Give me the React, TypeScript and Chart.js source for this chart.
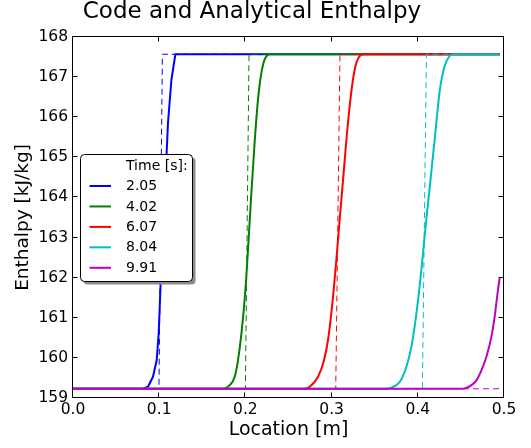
import React, { useEffect, useRef } from 'react';
import { Chart, registerables } from 'chart.js';

Chart.register(...registerables);

const TITLE = 'Code and Analytical Enthalpy';
const X_LABEL = 'Location [m]';
const Y_LABEL = 'Enthalpy [kJ/kg]';
const LEGEND_TITLE = 'Time [s]:';
const TIMES = ['2.05', '4.02', '6.07', '8.04', '9.91'];
const COLORS = ['#0000ff', '#008000', '#ff0000', '#00bfbf', '#bf00bf'];

const X_TICKS = [0, 0.1, 0.2, 0.3, 0.4, 0.5];
const Y_TICKS = [159, 160, 161, 162, 163, 164, 165, 166, 167, 168];

// Code results (solid)
const code205X = [0, 0.081, 0.087, 0.0928, 0.0971, 0.0994, 0.1006, 0.1017, 0.1102, 0.1142, 0.1188, 0.495];
const code205Y = [159.23, 159.23, 159.28, 159.53, 159.94, 160.62, 161.27, 161.89, 165.86, 166.94, 167.57, 167.57];

const code402X = [0, 0.1721, 0.1818, 0.1876, 0.1914, 0.1954, 0.2, 0.203, 0.2069, 0.2108, 0.2146, 0.2186, 0.2224, 0.2282, 0.495];
const code402Y = [159.23, 159.23, 159.32, 159.53, 159.94, 160.61, 161.69, 162.7, 164.1, 165.4, 166.44, 167.11, 167.44, 167.57, 167.57];

const code607X = [0, 0.268, 0.2746, 0.2843, 0.2912, 0.2958, 0.3005, 0.3055, 0.3086, 0.3133, 0.3172, 0.321, 0.3248, 0.3288, 0.3364, 0.495];
const code607Y = [159.23, 159.23, 159.28, 159.53, 159.94, 160.44, 161.28, 162.44, 163.25, 164.44, 165.44, 166.28, 166.94, 167.36, 167.57, 167.57];

const code804X = [0, 0.362, 0.3694, 0.379, 0.3868, 0.3926, 0.3984, 0.4042, 0.408, 0.4138, 0.4196, 0.4254, 0.4312, 0.437, 0.441, 0.495];
const code804Y = [159.23, 159.23, 159.26, 159.4, 159.78, 160.28, 161.11, 162.2, 163.05, 164.25, 165.45, 166.65, 167.28, 167.53, 167.57, 167.57];

const code991X = [0, 0.452, 0.4622, 0.468, 0.4738, 0.4796, 0.4854, 0.4892, 0.493, 0.495];
const code991Y = [159.23, 159.23, 159.32, 159.44, 159.69, 160.03, 160.53, 161.03, 161.69, 161.99];

// Analytical results (dashed)
const ana205X = [0, 0.0997, 0.1037, 0.495];
const ana205Y = [159.23, 159.23, 167.57, 167.57];
const ana402X = [0, 0.2, 0.2042, 0.495];
const ana402Y = [159.23, 159.23, 167.57, 167.57];
const ana607X = [0, 0.3048, 0.3097, 0.495];
const ana607Y = [159.23, 159.23, 167.57, 167.57];
const ana804X = [0, 0.4053, 0.41, 0.495];
const ana804Y = [159.23, 159.23, 167.57, 167.57];
const ana991X = [0, 0.495];
const ana991Y = [159.23, 159.23];

const CODE_X = [code205X, code402X, code607X, code804X, code991X];
const CODE_Y = [code205Y, code402Y, code607Y, code804Y, code991Y];
const ANA_X = [ana205X, ana402X, ana607X, ana804X, ana991X];
const ANA_Y = [ana205Y, ana402Y, ana607Y, ana804Y, ana991Y];

const FONT = "'DejaVu Sans', 'Liberation Sans', sans-serif";

const zip = (xs: number[], ys: number[]) => xs.map((x, i) => ({ x, y: ys[i] }));

const framePlugin = {
  id: 'frameAndLegend',
  afterDraw(chart: any) {
    const { ctx, chartArea, scales } = chart;
    const { left, right, top, bottom } = chartArea;
    const L = Math.round(left) - 0.5;
    const R = Math.round(right) - 0.5;
    const T = Math.round(top) - 0.5;
    const B = Math.round(bottom) - 0.5;
    ctx.save();
    ctx.strokeStyle = '#000';
    ctx.lineWidth = 1;
    ctx.strokeRect(L, T, R - L, B - T);
    const tl = 5;
    ctx.beginPath();
    X_TICKS.forEach((v) => {
      const px = Math.round(scales.x.getPixelForValue(v)) - 0.5;
      ctx.moveTo(px, B);
      ctx.lineTo(px, B - tl);
      ctx.moveTo(px, T);
      ctx.lineTo(px, T + tl);
    });
    Y_TICKS.forEach((v) => {
      const py = Math.round(scales.y.getPixelForValue(v)) - 0.5;
      ctx.moveTo(L, py);
      ctx.lineTo(L + tl, py);
      ctx.moveTo(R, py);
      ctx.lineTo(R - tl, py);
    });
    ctx.stroke();

    // Legend
    const bx = 80.5, by = 154.5, bw = 112, bh = 127, r = 4;
    const rr = (x: number, y: number) => {
      ctx.beginPath();
      ctx.moveTo(x + r, y);
      ctx.lineTo(x + bw - r, y);
      ctx.arcTo(x + bw, y, x + bw, y + r, r);
      ctx.lineTo(x + bw, y + bh - r);
      ctx.arcTo(x + bw, y + bh, x + bw - r, y + bh, r);
      ctx.lineTo(x + r, y + bh);
      ctx.arcTo(x, y + bh, x, y + bh - r, r);
      ctx.lineTo(x, y + r);
      ctx.arcTo(x, y, x + r, y, r);
      ctx.closePath();
    };
    rr(bx + 3, by + 3);
    ctx.fillStyle = '#8c8c8c';
    ctx.fill();
    rr(bx, by);
    ctx.fillStyle = '#ffffff';
    ctx.fill();
    ctx.strokeStyle = '#000';
    ctx.lineWidth = 1;
    ctx.stroke();

    ctx.font = `14px ${FONT}`;
    ctx.fillStyle = '#000';
    ctx.textBaseline = 'middle';
    ctx.textAlign = 'left';
    ctx.fillText(LEGEND_TITLE, 126, 166);
    TIMES.forEach((t, i) => {
      const y = 186 + i * 20.45;
      ctx.strokeStyle = COLORS[i];
      ctx.lineWidth = 2;
      ctx.beginPath();
      ctx.moveTo(89.5, y);
      ctx.lineTo(111, y);
      ctx.stroke();
      ctx.fillStyle = '#000';
      ctx.fillText(t, 126, y + 0.5);
    });
    ctx.restore();
  },
};

export default function App() {
  const ref = useRef<HTMLCanvasElement | null>(null);

  useEffect(() => {
    if (!ref.current) return;
    const datasets: any[] = [];
    TIMES.forEach((t, i) => {
      const isLast = i === TIMES.length - 1;
      datasets.push({
        label: t,
        data: zip(CODE_X[i], CODE_Y[i]),
        borderColor: COLORS[i],
        backgroundColor: COLORS[i],
        borderWidth: 2,
        pointRadius: 0,
        tension: 0,
        cubicInterpolationMode: i === 0 ? 'default' : 'monotone',
        fill: false,
        borderJoinStyle: 'round',
        order: isLast ? 1 : 20 - i * 2,
      });
      datasets.push({
        label: t + ' analytical',
        data: zip(ANA_X[i], ANA_Y[i]),
        borderColor: COLORS[i],
        backgroundColor: COLORS[i],
        borderWidth: 1,
        borderDash: [6, 4],
        pointRadius: 0,
        tension: 0,
        fill: false,
        order: isLast ? 2 : 19 - i * 2,
      });
    });

    const chart = new Chart(ref.current, {
      type: 'line',
      data: { datasets },
      options: {
        responsive: false,
        animation: false,
        events: [],
        layout: { padding: { left: 0, right: 27, top: 0, bottom: 0 } },
        plugins: {
          legend: { display: false },
          tooltip: { enabled: false },
          title: {
            display: true,
            text: TITLE,
            color: '#000',
            font: { family: FONT, size: 23, weight: 'normal', lineHeight: 1 },
            padding: { top: 0.5, bottom: 13.5 },
          },
        },
        scales: {
          x: {
            type: 'linear',
            min: 0,
            max: 0.5,
            grid: { display: false, drawTicks: false },
            border: { display: false },
            afterBuildTicks: (scale: any) => {
              scale.ticks = X_TICKS.map((v) => ({ value: v }));
            },
            afterFit: (scale: any) => {
              scale.height = 50;
            },
            ticks: {
              color: '#000',
              font: { family: FONT, size: 15.5 },
              padding: 3,
              maxRotation: 0,
              autoSkip: false,
              callback: (v: any) => Number(v).toFixed(1),
            },
            title: {
              display: true,
              text: X_LABEL,
              color: '#000',
              font: { family: FONT, size: 19 },
              padding: { top: 0, bottom: 6.6 },
            },
          },
          y: {
            type: 'linear',
            min: 159,
            max: 168,
            grid: { display: false, drawTicks: false },
            border: { display: false },
            afterBuildTicks: (scale: any) => {
              scale.ticks = Y_TICKS.map((v) => ({ value: v }));
            },
            afterFit: (scale: any) => {
              scale.width = 73;
            },
            ticks: {
              color: '#000',
              font: { family: FONT, size: 15.5 },
              padding: 5,
              autoSkip: false,
              callback: (v: any) => String(v),
            },
            title: {
              display: true,
              text: Y_LABEL,
              color: '#000',
              font: { family: FONT, size: 18.5 },
              padding: { top: 12, bottom: 0 },
            },
          },
        },
      },
      plugins: [framePlugin],
    } as any);
    return () => chart.destroy();
  }, []);

  return (
    <div style={{ position: 'fixed', left: 0, top: 0, width: 531, height: 448, background: '#fff' }}>
      <canvas ref={ref} width={531} height={448} style={{ display: 'block' }} />
    </div>
  );
}
